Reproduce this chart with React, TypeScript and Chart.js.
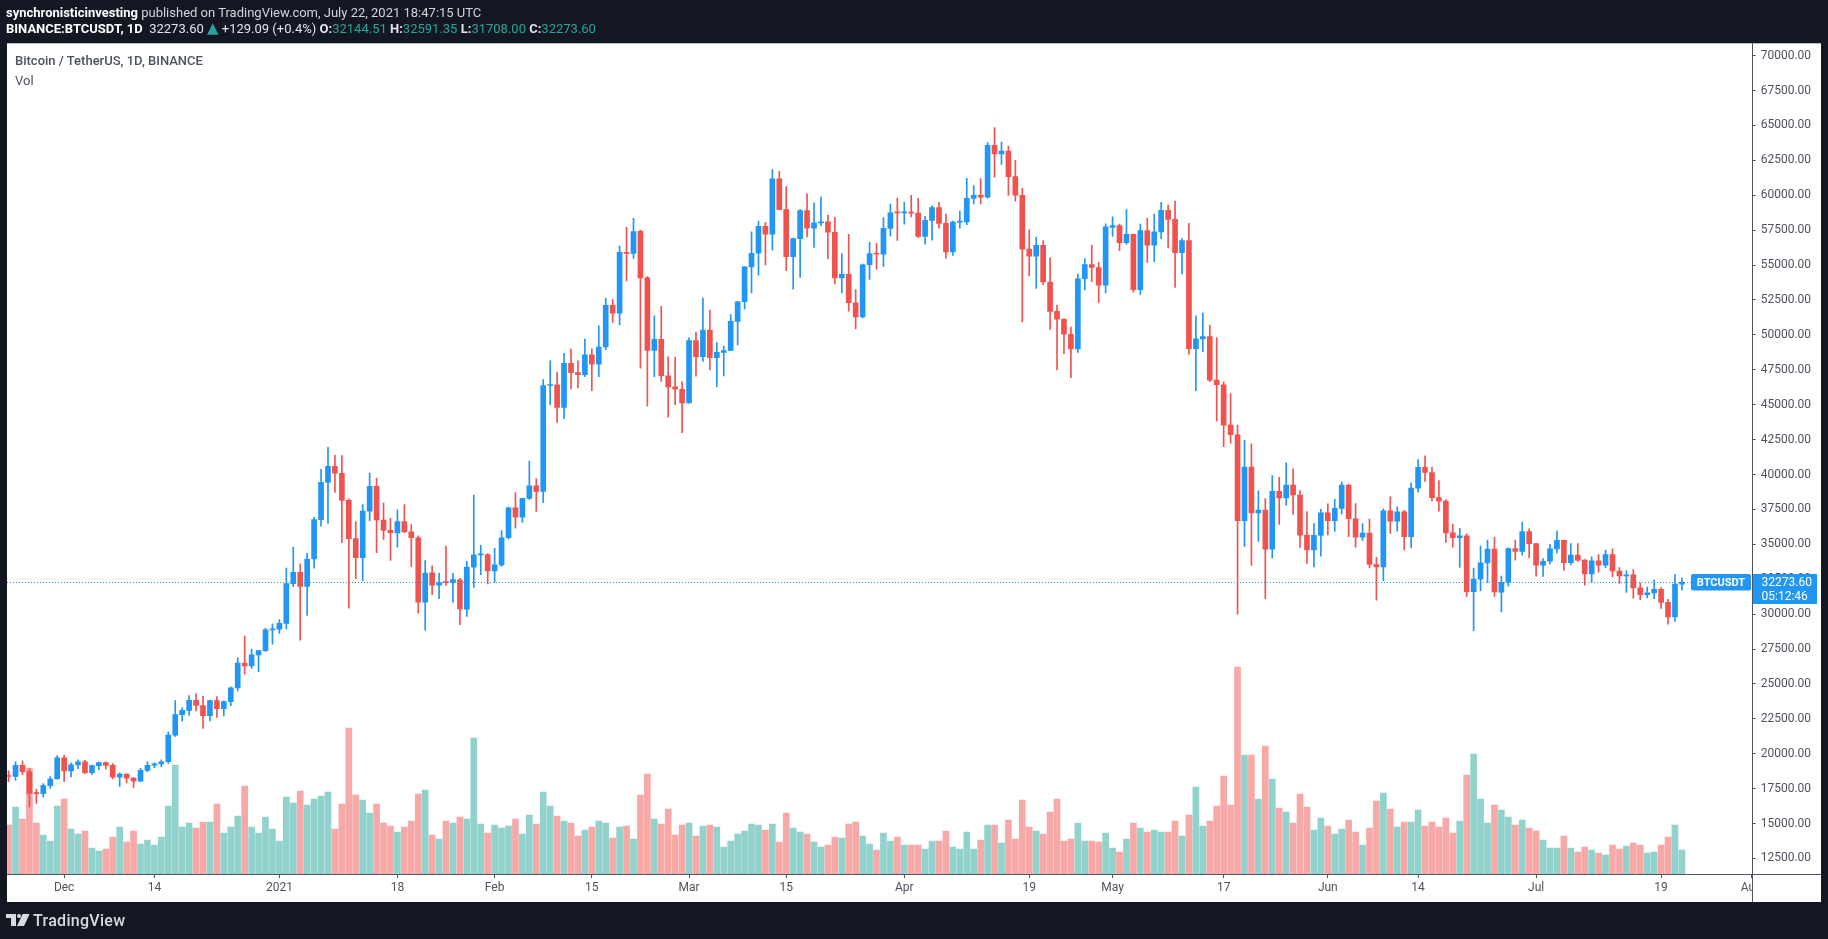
import React, { useEffect, useRef } from 'react';
import { Chart, registerables } from 'chart.js';

Chart.register(...registerables);

// ---------- data ----------
const START_DATE = '2020-11-23';

const opens = [
  18414, 18368, 19160, 18719, 17150, 17139, 17719, 18185, 19696, 18765,
  19205, 19422, 18650, 19148, 19359, 19167, 18324, 18541, 18254, 18036,
  18808, 19175, 19273, 19426, 21335, 22797, 23107, 23821, 23455, 22719,
  23811, 23232, 23729, 24712, 26493, 26281, 27079, 27385, 28875, 28924,
  29332, 32176, 33000, 31989, 33950, 36770, 39432, 40586, 40088, 38150,
  35410, 34049, 37371, 39145, 36737, 35995, 35824, 36622, 35901, 35468,
  30851, 32950, 32078, 32259, 32254, 32464, 30362, 33368, 34246, 34262,
  33092, 33517, 35472, 37620, 36936, 38289, 39181, 38795, 46374, 46420,
  44807, 47968, 47298, 47157, 48580, 47911, 49133, 52117, 51552, 55906,
  55841, 57412, 54087, 48891, 49676, 47074, 46277, 46104, 45134, 49595,
  48436, 50349, 48375, 48747, 48882, 50959, 52376, 54875, 55851, 57774,
  57222, 61188, 58976, 55605, 56900, 58912, 57641, 58030, 58100, 57351,
  54083, 54342, 52303, 51293, 55026, 55817, 55782, 57635, 58746, 58740,
  58790, 58720, 57060, 58200, 59120, 57990, 55950, 58080, 58090, 59780,
  59990, 59860, 63575, 62960, 63160, 61334, 60006, 56150, 55633, 56425,
  53787, 51690, 51110, 50047, 49004, 54021, 55034, 54825, 53555, 57700,
  57828, 56610, 57213, 53241, 57473, 56428, 57380, 58928, 58280, 55883,
  56750, 49007, 49716, 49880, 46761, 46432, 43538, 42850, 36691, 40526,
  37252, 37449, 34655, 38796, 38324, 39241, 38529, 35663, 34605, 35641,
  37253, 36694, 37568, 39246, 36829, 35517, 35797, 33552, 33380, 37389,
  36663, 37331, 35546, 39020, 40516, 40144, 38349, 38092, 35820, 35484,
  35600, 31614, 32509, 33675, 34664, 31576, 32283, 34700, 34494, 35911,
  35045, 33502, 33786, 34669, 35288, 33690, 34220, 33863, 32875, 33815,
  33502, 34259, 33086, 32729, 32820, 31874, 31384, 31521, 31778, 30839,
  29790, 32144.51,
];

const highs = [
  18773, 19418, 19484, 18915, 17457, 17853, 18360, 19863, 19888, 19343,
  19566, 19527, 19177, 19420, 19420, 19294, 18639, 18557, 18292, 18948,
  19411, 19349, 19570, 21560, 23800, 23285, 24171, 24295, 24102, 23837,
  24100, 23794, 24789, 26867, 28422, 27500, 27410, 28999, 29300, 29600,
  33300, 34778, 33600, 34360, 36939, 40365, 41950, 41380, 41350, 38264,
  36628, 37850, 40100, 39747, 37950, 36852, 37469, 37850, 36415, 35600,
  33826, 33456, 32944, 34875, 32921, 32557, 33783, 38531, 34933, 34342,
  34717, 35984, 37662, 38708, 38310, 40955, 39700, 46794, 48142, 47310,
  48678, 48985, 48150, 49707, 49010, 50645, 52618, 52530, 56368, 57700,
  58352, 57508, 54183, 51374, 52041, 48424, 48395, 46638, 49790, 50200,
  52640, 51773, 49448, 49200, 51450, 52402, 54900, 57387, 58150, 58058,
  61844, 61724, 60633, 56938, 58982, 60100, 59468, 59880, 58589, 58430,
  55830, 57200, 53238, 55073, 56640, 56559, 58405, 59368, 59800, 59490,
  60000, 59790, 58500, 59250, 59500, 58650, 58153, 58869, 61220, 60690,
  61200, 63777, 64854, 63821, 63520, 62500, 60499, 57526, 57000, 56757,
  55521, 52130, 51166, 50554, 54356, 55460, 56428, 55195, 57963, 58458,
  57941, 58973, 57214, 57939, 58360, 58650, 59500, 59300, 59592, 56900,
  58000, 51367, 51560, 50700, 49800, 46643, 45800, 43547, 42451, 42200,
  38829, 38270, 39920, 39791, 40841, 40411, 38856, 37338, 36488, 37499,
  37894, 38225, 39476, 39289, 37925, 36480, 36800, 34069, 37534, 38400,
  37690, 37436, 39380, 41064, 41330, 40527, 39559, 38202, 36457, 36137,
  35750, 33298, 34881, 35298, 35500, 32730, 34749, 35297, 36600, 36100,
  35060, 33977, 35000, 35950, 35294, 35059, 35059, 33909, 34100, 34262,
  34592, 34678, 33340, 33114, 33185, 32249, 31935, 32435, 31899, 31063,
  32858, 32591.35,
];

const lows = [
  18000, 18080, 18500, 16188, 16438, 16880, 17517, 18185, 18001, 18330,
  18925, 18565, 18500, 18857, 18902, 18200, 17650, 17911, 17572, 18020,
  18711, 19000, 19050, 19278, 21230, 22350, 22750, 23060, 21815, 22353,
  22600, 22703, 23433, 24500, 25700, 26101, 25880, 27320, 27850, 28624,
  28946, 31962, 28130, 29900, 33288, 36300, 36500, 38720, 35111, 30420,
  32531, 32380, 36701, 34408, 35357, 33850, 34800, 35844, 33400, 30071,
  28850, 31390, 31106, 32053, 30837, 29241, 29842, 31915, 32825, 32171,
  32296, 33418, 35362, 36161, 36570, 38215, 37351, 37988, 45000, 43727,
  43994, 46125, 46202, 47014, 46000, 47003, 48947, 50901, 50710, 53863,
  55477, 47622, 44892, 47003, 46674, 44106, 45000, 43000, 45115, 47047,
  48100, 47500, 46300, 47070, 48882, 49274, 51845, 53005, 54272, 55013,
  56078, 58966, 54600, 53271, 54123, 57023, 56270, 57820, 55450, 53650,
  53000, 51700, 50427, 51225, 53966, 54691, 54900, 57071, 56769, 57935,
  58445, 56956, 56500, 56790, 57650, 55473, 55700, 57650, 57900, 59380,
  59380, 59800, 61301, 62208, 60000, 59580, 50931, 54221, 53329, 53596,
  50400, 47500, 48657, 46930, 48753, 53222, 53813, 52330, 53013, 57052,
  56035, 56478, 53057, 52900, 55200, 55241, 56900, 56235, 53400, 54370,
  48600, 46000, 48800, 46650, 43825, 42001, 42250, 30000, 34850, 33488,
  35200, 31111, 34031, 36419, 37800, 37134, 34779, 33632, 33379, 34153,
  35666, 35920, 37170, 35555, 34800, 35258, 33300, 31000, 32397, 35787,
  35937, 34601, 34757, 38730, 39506, 38116, 37365, 35129, 34803, 33336,
  31251, 28805, 31683, 32286, 31275, 30151, 32000, 33862, 34225, 34017,
  32711, 32700, 33600, 34386, 33125, 33531, 33780, 32077, 32261, 33004,
  33332, 32658, 32203, 31550, 31133, 31020, 31166, 31108, 30408, 29278,
  29482, 31708,
];

const closes = [
  18368, 19160, 18719, 17150, 17139, 17719, 18185, 19696, 18765, 19205,
  19422, 18650, 19148, 19359, 19167, 18324, 18541, 18254, 18036, 18808,
  19175, 19273, 19426, 21335, 22797, 23107, 23821, 23455, 22719, 23811,
  23232, 23729, 24712, 26493, 26281, 27079, 27385, 28875, 28924, 29332,
  32178, 33000, 31988, 33950, 36770, 39432, 40582, 40088, 38150, 35404,
  34051, 37371, 39144, 36742, 35994, 35828, 36631, 35891, 35468, 30850,
  32945, 32078, 32259, 32254, 32467, 30366, 33364, 34252, 34262, 33092,
  33526, 35466, 37618, 36936, 38290, 39186, 38795, 46374, 46420, 44807,
  47969, 47287, 47153, 48577, 47911, 49133, 52119, 51553, 55906, 55842,
  57408, 54088, 48891, 49676, 47073, 46276, 46106, 45135, 49587, 48440,
  50349, 48375, 48751, 48882, 50971, 52375, 54884, 55851, 57773, 57221,
  61188, 58968, 55605, 56900, 58912, 57648, 58030, 58102, 57351, 54083,
  54340, 52303, 51293, 55025, 55817, 55777, 57635, 58746, 58740, 58790,
  58720, 57060, 58200, 59120, 57990, 55950, 58080, 58090, 59780, 59990,
  59860, 63575, 62960, 63160, 61334, 60006, 56150, 55633, 56425, 53787,
  51690, 51125, 50047, 49004, 54021, 55034, 54825, 53555, 57750, 57828,
  56610, 57213, 53241, 57473, 56428, 57380, 58928, 58280, 55883, 56750,
  49007, 49716, 49880, 46761, 46432, 43538, 42850, 36691, 40526, 37252,
  37449, 34655, 38796, 38324, 39241, 38529, 35663, 34605, 35641, 37253,
  36693, 37568, 39246, 36829, 35514, 35797, 33552, 33380, 37389, 36662,
  37331, 35546, 39020, 40516, 40144, 38349, 38092, 35819, 35484, 35600,
  31608, 32509, 33679, 34664, 31594, 32276, 34700, 34494, 35911, 35045,
  33504, 33786, 34669, 35287, 33691, 34220, 33863, 32875, 33815, 33502,
  34259, 33086, 32729, 32820, 31880, 31384, 31521, 31778, 30839, 29790,
  32144.51, 32273.6,
];

// volume, thousand BTC
const volumes = [
  49, 67, 55, 106, 51, 39, 33, 68, 75, 45,
  40, 43, 26, 23, 25, 37, 47, 32, 43, 30,
  34, 29, 37, 68, 109, 47, 51, 46, 52, 52,
  70, 41, 47, 58, 88, 47, 41, 57, 45, 33,
  77, 71, 83, 69, 75, 78, 82, 45, 70, 146,
  79, 74, 61, 70, 51, 48, 42, 47, 53, 80,
  84, 39, 35, 53, 51, 57, 55, 136, 50, 41,
  49, 46, 48, 55, 40, 59, 50, 82, 68, 58,
  53, 51, 38, 44, 47, 53, 51, 36, 47, 48,
  35, 79, 100, 55, 50, 65, 39, 49, 51, 38,
  48, 49, 47, 27, 33, 40, 43, 50, 49, 44,
  50, 32, 61, 46, 42, 40, 32, 27, 29, 37,
  36, 50, 52, 38, 30, 24, 41, 33, 37, 29,
  29, 29, 25, 33, 33, 43, 27, 25, 42, 25,
  34, 49, 49, 31, 54, 35, 74, 47, 43, 40,
  62, 75, 33, 35, 51, 33, 33, 32, 41, 26,
  22, 35, 51, 46, 42, 44, 42, 42, 53, 38,
  59, 87, 48, 53, 68, 98, 69, 207, 119, 119,
  75, 128, 95, 66, 62, 51, 80, 67, 44, 56,
  48, 40, 45, 54, 42, 29, 46, 73, 81, 65,
  47, 52, 52, 64, 48, 52, 47, 56, 41, 53,
  99, 120, 75, 51, 69, 64, 57, 49, 54, 46,
  43, 34, 26, 26, 38, 26, 22, 27, 24, 21,
  19, 29, 25, 28, 31, 29, 21, 22, 29, 37,
  49, 24,
];

const priceTicks = [
  12500, 15000, 17500, 20000, 22500, 25000, 27500, 30000, 32500, 35000,
  37500, 40000, 42500, 45000, 47500, 50000, 52500, 55000, 57500, 60000,
  62500, 65000, 67500, 70000,
];

const timeTicks: [string, string][] = [
  ['2020-12-01', 'Dec'], ['2020-12-14', '14'], ['2021-01-01', '2021'], ['2021-01-18', '18'],
  ['2021-02-01', 'Feb'], ['2021-02-15', '15'], ['2021-03-01', 'Mar'], ['2021-03-15', '15'],
  ['2021-04-01', 'Apr'], ['2021-04-19', '19'], ['2021-05-01', 'May'], ['2021-05-17', '17'],
  ['2021-06-01', 'Jun'], ['2021-06-14', '14'], ['2021-07-01', 'Jul'], ['2021-07-19', '19'],
  ['2021-08-01', 'Aug'],
];

const SYMBOL_TAG = 'BTCUSDT';
const BAR_TIMER = '05:12:46';

// ---------- style ----------
const BLUE = '#2196f3';
const RED = '#ef5350';
const VOL_UP = 'rgba(38,166,154,0.5)';
const VOL_DOWN = 'rgba(239,83,80,0.5)';
const DARK = '#131722';
const AXIS_LINE = '#50535e';
const AXIS_TEXT = '#50535e';
const TEAL = '#26a69a';
const FONT = 'Roboto, "Noto Sans", sans-serif';

const PANEL = { left: 7, top: 43.3, right: 1821, bottom: 902 };
const Y_MIN = 11383;
const Y_MAX = 70888;
const X_MIN = -0.23;
const X_MAX = 251.05;

function dayIndex(d: string) {
  return Math.round((Date.parse(d + 'T00:00:00Z') - Date.parse(START_DATE + 'T00:00:00Z')) / 86400000);
}

const overlayPlugin: any = {
  id: 'tvOverlay',
  beforeDraw(chart: any) {
    const { ctx } = chart;
    ctx.save();
    ctx.fillStyle = DARK;
    ctx.fillRect(0, 0, chart.width, chart.height);
    ctx.fillStyle = '#ffffff';
    ctx.fillRect(PANEL.left, PANEL.top, PANEL.right - PANEL.left, PANEL.bottom - PANEL.top);
    ctx.restore();
  },
  afterDraw(chart: any) {
    const { ctx, chartArea } = chart;
    const ys = chart.scales.y;
    const last = closes[closes.length - 1];
    const py = Math.round(ys.getPixelForValue(last)) + 0.5;
    const ax = Math.round(chartArea.right) + 0.5;
    const bx = Math.round(chartArea.bottom) + 0.5;
    ctx.save();
    ctx.fillStyle = '#ffffff';
    ctx.fillRect(ax, bx, PANEL.right - ax, PANEL.bottom - bx);
    ctx.strokeStyle = AXIS_LINE;
    ctx.lineWidth = 1;
    ctx.beginPath();
    ctx.moveTo(PANEL.left, bx);
    ctx.lineTo(PANEL.right, bx);
    ctx.moveTo(ax, PANEL.top);
    ctx.lineTo(ax, PANEL.bottom);
    ctx.stroke();

    const tagW = 60;
    const tagRight = ax - 1.5;
    ctx.strokeStyle = BLUE;
    ctx.setLineDash([1, 2]);
    ctx.beginPath();
    ctx.moveTo(chartArea.left, py);
    ctx.lineTo(tagRight - tagW, py);
    ctx.stroke();
    ctx.setLineDash([]);

    ctx.fillStyle = BLUE;
    ctx.beginPath();
    if (ctx.roundRect) ctx.roundRect(tagRight - tagW, py - 8.5, tagW, 16.5, 2);
    else ctx.rect(tagRight - tagW, py - 8.5, tagW, 16.5);
    ctx.fill();
    ctx.fillStyle = '#ffffff';
    ctx.font = 'bold 11px ' + FONT;
    ctx.textAlign = 'center';
    ctx.textBaseline = 'middle';
    ctx.fillText(SYMBOL_TAG, tagRight - tagW / 2, py + 0.5);

    ctx.fillStyle = BLUE;
    ctx.fillRect(ax + 0.5, py - 8.5, 64, 30);
    ctx.fillStyle = '#ffffff';
    ctx.font = '12px ' + FONT;
    ctx.textAlign = 'left';
    ctx.fillText(last.toFixed(2), ax + 9, py + 0.5);
    ctx.fillText(BAR_TIMER, ax + 9, py + 14.5);
    ctx.restore();
  },
};

function TVLogo() {
  const w = { position: 'absolute' as const, background: '#d9dbe0' };
  return (
    <div style={{ position: 'absolute', left: 6, top: 914, width: 24, height: 12 }}>
      <div style={{ ...w, left: 0, top: 0, width: 9.5, height: 4 }} />
      <div style={{ ...w, left: 5, top: 0, width: 4.5, height: 12 }} />
      <div style={{ ...w, left: 10.5, top: 0, width: 4, height: 4, borderRadius: 2 }} />
      <div style={{ ...w, left: 11, top: 0, width: 7, height: 12, transform: 'skewX(-25deg)', transformOrigin: 'bottom left' }} />
    </div>
  );
}

export default function App() {
  const ref = useRef<HTMLCanvasElement>(null);

  useEffect(() => {
    document.body.style.margin = '0';
    document.body.style.background = DARK;
    document.documentElement.style.background = DARK;
    const idx = closes.map((_, i) => i);
    const up = idx.map((i) => closes[i] >= opens[i]);
    const tickIdx = timeTicks.map((t) => dayIndex(t[0]));

    const chart = new Chart(ref.current as HTMLCanvasElement, {
      type: 'bar',
      data: {
        datasets: [
          {
            label: 'body',
            data: idx.map((i) => ({ x: i, y: [opens[i], closes[i]] })) as any,
            backgroundColor: up.map((u) => (u ? BLUE : RED)),
            barThickness: 5,
            minBarLength: 1,
            grouped: false,
            order: 0,
            yAxisID: 'y',
            borderWidth: 0,
          } as any,
          {
            label: 'wick',
            data: idx.map((i) => ({ x: i, y: [lows[i], highs[i]] })) as any,
            backgroundColor: up.map((u) => (u ? BLUE : RED)),
            barThickness: 1,
            grouped: false,
            order: 1,
            yAxisID: 'y',
            borderWidth: 0,
          } as any,
          {
            label: 'Vol',
            data: idx.map((i) => ({ x: i, y: volumes[i] })) as any,
            backgroundColor: up.map((u) => (u ? VOL_UP : VOL_DOWN)),
            barThickness: 6,
            grouped: false,
            order: 2,
            yAxisID: 'v',
            borderWidth: 0,
          } as any,
        ],
      },
      options: {
        animation: false,
        responsive: false,
        events: [],
        layout: { padding: { left: PANEL.left, top: PANEL.top, right: 1828 - PANEL.right, bottom: 939 - PANEL.bottom } },
        plugins: { legend: { display: false }, tooltip: { enabled: false }, title: { display: false } },
        scales: {
          x: {
            type: 'linear',
            min: X_MIN,
            max: X_MAX,
            offset: false,
            afterBuildTicks: (s: any) => {
              s.ticks = tickIdx.map((v) => ({ value: v }));
            },
            afterFit: (s: any) => {
              s.height = PANEL.bottom - 874;
              s.paddingLeft = 0;
              s.paddingRight = 0;
            },
            ticks: {
              autoSkip: false,
              maxRotation: 0,
              minRotation: 0,
              padding: 3,
              color: AXIS_TEXT,
              font: { family: FONT, size: 12 },
              callback: (_v: any, i: number) => (timeTicks[i] ? timeTicks[i][1] : ''),
            },
            grid: { drawOnChartArea: false, drawTicks: true, tickLength: 4, color: AXIS_LINE, offset: false },
            border: { display: false },
          } as any,
          y: {
            type: 'linear',
            position: 'right',
            min: Y_MIN,
            max: Y_MAX,
            afterBuildTicks: (s: any) => {
              s.ticks = priceTicks.map((v) => ({ value: v }));
            },
            afterFit: (s: any) => {
              s.width = PANEL.right - 1751.7;
              s.paddingTop = 0;
              s.paddingBottom = 0;
            },
            ticks: {
              autoSkip: false,
              padding: 5,
              crossAlign: 'near',
              color: AXIS_TEXT,
              font: { family: FONT, size: 12 },
              callback: (v: any) => Number(v).toFixed(2),
            },
            grid: { drawOnChartArea: false, drawTicks: true, tickLength: 4, color: AXIS_LINE },
            border: { display: false },
          } as any,
          v: {
            type: 'linear',
            display: false,
            min: 0,
            max: 874 - PANEL.top,
          } as any,
        },
      },
      plugins: [overlayPlugin],
    });
    return () => chart.destroy();
  }, []);

  const n = closes.length;
  const last = closes[n - 1];
  const prev = closes[n - 2];
  const chg = last - prev;
  const pct = (chg / prev) * 100;
  const hdr = { position: 'absolute' as const, whiteSpace: 'nowrap' as const, fontFamily: FONT, fontSize: 13, lineHeight: '17px' };
  const teal = { color: TEAL };

  return (
    <div style={{ position: 'relative', width: 1828, height: 939, background: DARK, overflow: 'hidden' }}>
      <canvas ref={ref} width={1828} height={939} style={{ position: 'absolute', left: 0, top: 0, width: 1828, height: 939 }} />
      <div style={{ ...hdr, left: 6, top: 4.3, color: '#d1d4dc' }}>
        <b style={{ color: '#ffffff' }}>synchronisticinvesting</b> published on TradingView.com, July 22, 2021 18:47:15 UTC
      </div>
      <div style={{ ...hdr, left: 6, top: 20.3, color: '#e0e3eb' }}>
        <b style={{ color: '#ffffff' }}>BINANCE:BTCUSDT, 1D</b>&nbsp; {last.toFixed(2)}{' '}
        <span style={{ ...teal, fontSize: 15, fontFamily: '"DejaVu Sans", sans-serif', lineHeight: '13px' }}>▲</span>{' '}
        {chg >= 0 ? '+' : ''}{chg.toFixed(2)} ({chg >= 0 ? '+' : ''}{pct.toFixed(1)}%){' '}
        <b>O:</b><span style={teal}>{opens[n - 1].toFixed(2)}</span>{' '}
        <b>H:</b><span style={teal}>{highs[n - 1].toFixed(2)}</span>{' '}
        <b>L:</b><span style={teal}>{lows[n - 1].toFixed(2)}</span>{' '}
        <b>C:</b><span style={teal}>{last.toFixed(2)}</span>
      </div>
      <div style={{ ...hdr, left: 15, top: 52.3, color: '#4c525e', fontWeight: 500 }}>Bitcoin / TetherUS, 1D, BINANCE</div>
      <div style={{ ...hdr, left: 15, top: 72.3, color: '#4c525e' }}>Vol</div>
      <TVLogo />
      <div style={{ position: 'absolute', left: 33, top: 910.7, fontFamily: FONT, fontSize: 16, lineHeight: '19px', fontWeight: 500, letterSpacing: '0.3px', color: '#d9dbe0', whiteSpace: 'nowrap' }}>
        TradingView
      </div>
    </div>
  );
}
